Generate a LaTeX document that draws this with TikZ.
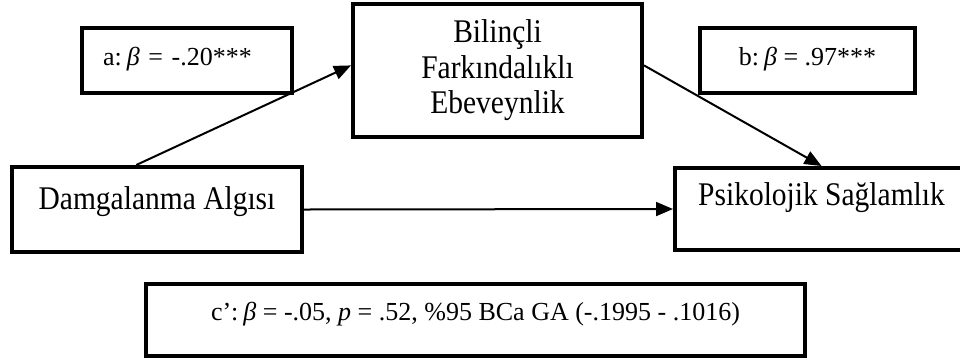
\documentclass[tikz,border=0pt]{standalone}
\usepackage{fontspec}
\usepackage{graphicx}
\setmainfont{Liberation Serif}
\usetikzlibrary{arrows.meta}

\newcommand{\tallword}[1]{\scalebox{1}[1.12]{#1}}

\begin{document}
\begin{tikzpicture}[x=1pt,y=1pt,yscale=-1,xscale=1,
    varbox/.style={draw,line width=4pt,inner sep=0pt,align=center,font=\fontsize{29.5}{35.5}\selectfont},
    coefbox/.style={draw,line width=4pt,inner sep=0pt,font=\fontsize{26}{31}\selectfont,text height=18pt,text depth=9pt},
    effect/.style={line width=2pt,-{Triangle[length=17pt,width=14pt]}}]
    \useasboundingbox (0,0) rectangle (960,360);

    % Mediator
    \node [varbox,minimum width=289pt,minimum height=133pt] (med) at (497.5,70.5) {\tallword{Bilinçli}\\\tallword{Farkındalıklı}\\\tallword{Ebeveynlik}};
    % Predictor
    \node [varbox,minimum width=290pt,minimum height=85pt,text height=21pt,text depth=21pt] (dam) at (157,209.5) {\tallword{Damgalanma Algısı}};
    % Outcome
    \node [varbox,minimum width=293pt,minimum height=82pt,text height=20pt,text depth=28pt] (psi) at (821.5,209) {\tallword{Psikolojik Sağlamlık}};

    % Text Node: path a
    \node [coefbox,minimum width=210pt,minimum height=65pt,text width=168pt,inner xsep=21pt,align=left] (coefa) at (187,60.5) {a:\hspace{5pt}\textit{β} = -.20***};
    % Text Node: path b
    \node [coefbox,minimum width=215pt,minimum height=65pt] (coefb) at (807.5,60.5) {b:\hspace{5pt}\textit{β} = .97***};
    % Text Node: direct effect
    \node [coefbox,minimum width=659pt,minimum height=72pt,text height=18pt,text depth=18pt] (coefc) at (475.5,320) {c’:\hspace{5pt}\textit{β} = -.05, \textit{p} = .52, \%95 BCa GA (-.1995 - .1016)};

    % Arrows
    \draw [effect] (dam.115) -- (med.178) ;
    \draw [effect] (med.2) -- (psi.north) ;
    \draw [effect] (dam.east) -- (psi.west) ;

\end{tikzpicture}
\end{document}
